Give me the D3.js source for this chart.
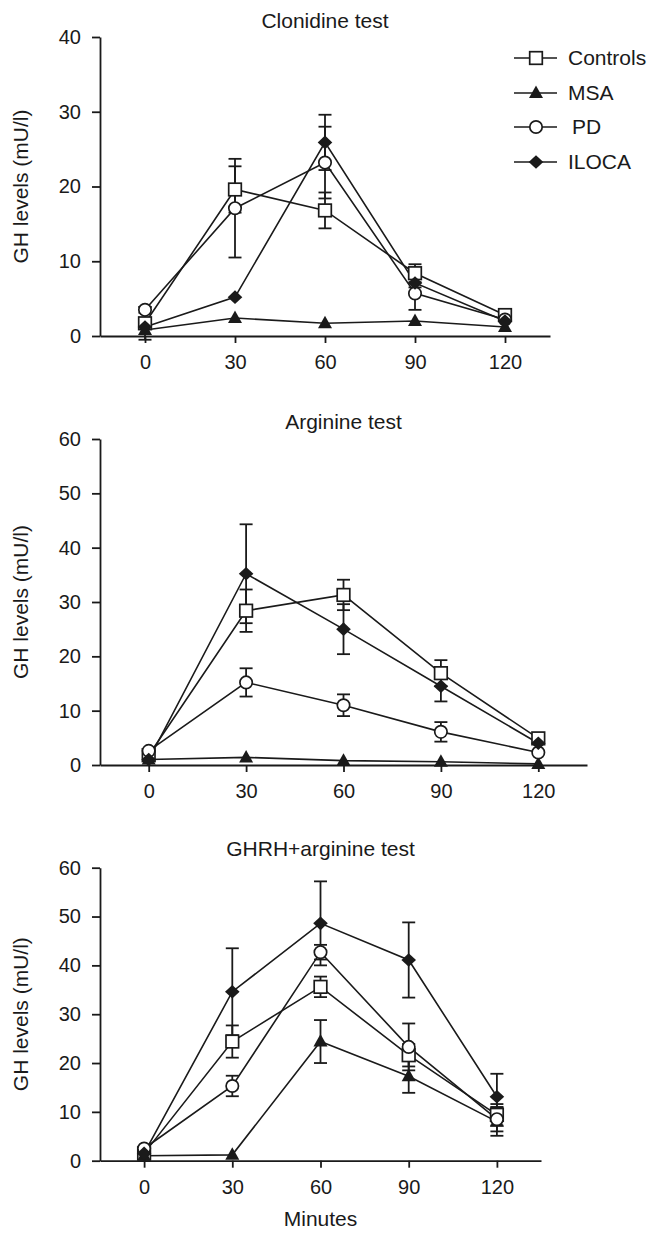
<!DOCTYPE html>
<html>
<head>
<meta charset="utf-8">
<script src="https://cdn.jsdelivr.net/npm/d3@7"></script>
<style>
  body { margin: 0; background: #fff; }
  svg { display: block; font-family: "Liberation Sans", Arial, Helvetica, sans-serif; }
  .axis path, .axis line { stroke: #1a1a1a; stroke-width: 1.8; }
  .axis text { font-size: 20px; fill: #1a1a1a; }
</style>
</head>
<body>
<svg id="chart" width="649" height="1239"></svg>
<script>
const minutes = [0, 30, 60, 90, 120];
const groups = ["Controls", "MSA", "PD", "ILOCA"];
const tests = ["Clonidine test", "Arginine test", "GHRH+arginine test"];
const yMax = [40, 60, 60];

// means per group (Controls, MSA, PD, ILOCA)
const clonidineMean = [
  [1.7, 19.6, 16.8, 8.4, 2.8],
  [0.8, 2.4, 1.7, 2.0, 1.2],
  [3.5, 17.1, 23.2, 5.7, 2.2],
  [1.2, 5.2, 25.9, 7.1, 2.0],
];
const clonidineErr = [
  [2.2, 3.1, 2.4, 1.2, 0],
  [0, 0, 0, 0, 0],
  [0.4, 6.6, 4.8, 2.2, 0],
  [0, 0, 3.7, 0.6, 0],
];
const arginineMean = [
  [1.8, 28.4, 31.3, 16.9, 4.9],
  [1.0, 1.4, 0.8, 0.6, 0.2],
  [2.6, 15.2, 11.0, 6.1, 2.3],
  [1.0, 35.2, 25.0, 14.5, 4.0],
];
const arginineErr = [
  [0, 3.9, 2.8, 2.4, 0],
  [0, 0, 0, 0, 0],
  [0, 2.6, 2.0, 1.8, 0],
  [0, 9.1, 4.6, 2.8, 0],
];
const ghrhMean = [
  [1.5, 24.4, 35.6, 21.6, 9.4],
  [1.0, 1.2, 24.4, 17.3, 8.0],
  [2.5, 15.3, 42.7, 23.3, 8.5],
  [1.5, 34.6, 48.6, 41.1, 13.1],
];
const ghrhErr = [
  [0, 3.3, 2.1, 2.3, 2.2],
  [0, 0, 4.4, 3.4, 2.9],
  [0, 2.1, 1.5, 4.8, 2.5],
  [0, 8.9, 8.6, 7.7, 4.7],
];

const means = [clonidineMean, arginineMean, ghrhMean];
const errs = [clonidineErr, arginineErr, ghrhErr];

// panel geometry
const panels = [
  { xr: [100, 550], yr: [336, 37], titleY: 28 },
  { xr: [100, 587], yr: [765, 439], titleY: 429 },
  { xr: [100, 541], yr: [1160.7, 867.7], titleY: 856 },
];

const svg = d3.select("#chart");
const ink = "#1a1a1a";

function marker(sel, gi) {
  if (gi === 0) {
    sel.append("rect").attr("x", -6.3).attr("y", -6.3).attr("width", 12.6).attr("height", 12.6)
      .attr("fill", "#fff").attr("stroke", ink).attr("stroke-width", 1.7);
  } else if (gi === 1) {
    sel.append("path").attr("d", "M0,-7.5L7,5L-7,5Z").attr("fill", ink);
  } else if (gi === 2) {
    sel.append("circle").attr("r", 6.2).attr("fill", "#fff")
      .attr("stroke", ink).attr("stroke-width", 1.7);
  } else {
    sel.append("path").attr("d", "M0,-6.8L7.3,0L0,6.8L-7.3,0Z").attr("fill", ink);
  }
}

panels.forEach((p, pi) => {
  const x = d3.scaleLinear().domain([-15, 135]).range(p.xr);
  const y = d3.scaleLinear().domain([0, yMax[pi]]).range(p.yr);
  const g = svg.append("g");

  g.append("g").attr("class", "axis")
    .attr("transform", `translate(0,${y(0)})`)
    .call(d3.axisBottom(x).tickValues(minutes).tickSize(7).tickSizeOuter(0).tickPadding(12))
    .call((a) => a.selectAll("text").attr("dy", "0.71em"));

  g.append("g").attr("class", "axis")
    .attr("transform", `translate(${p.xr[0]},0)`)
    .call(d3.axisLeft(y).ticks(yMax[pi] / 10).tickSize(8).tickSizeOuter(0).tickPadding(11));

  g.append("text").attr("x", (p.xr[0] + p.xr[1]) / 2).attr("y", p.titleY)
    .attr("text-anchor", "middle").attr("font-size", 21).attr("fill", ink)
    .text(tests[pi]);

  g.append("text")
    .attr("transform", `translate(21,${(p.yr[0] + p.yr[1]) / 2}) rotate(-90)`)
    .attr("text-anchor", "middle").attr("dy", "0.35em")
    .attr("font-size", 21).attr("fill", ink).text("GH levels (mU/l)");

  const line = d3.line().x((d, i) => x(minutes[i])).y((d) => y(d));

  groups.forEach((name, gi) => {
    const vals = means[pi][gi];
    const ev = errs[pi][gi];
    g.append("path").datum(vals).attr("d", line)
      .attr("fill", "none").attr("stroke", ink).attr("stroke-width", 1.6);
    const eb = g.append("g").attr("stroke", ink).attr("stroke-width", 1.8);
    vals.forEach((v, i) => {
      if (!ev[i]) return;
      const cx = x(minutes[i]);
      eb.append("line").attr("x1", cx).attr("x2", cx)
        .attr("y1", y(v - ev[i])).attr("y2", y(v + ev[i]));
      [v - ev[i], v + ev[i]].forEach((e) => {
        eb.append("line").attr("x1", cx - 6.5).attr("x2", cx + 6.5)
          .attr("y1", y(e)).attr("y2", y(e));
      });
    });
  });

  groups.forEach((name, gi) => {
    means[pi][gi].forEach((v, i) => {
      g.append("g").attr("transform", `translate(${x(minutes[i])},${y(v)})`)
        .call((s) => marker(s, gi));
    });
  });

  if (pi === 2) {
    g.append("text").attr("x", (p.xr[0] + p.xr[1]) / 2).attr("y", 1226)
      .attr("text-anchor", "middle").attr("font-size", 21).attr("fill", ink)
      .text("Minutes");
  }
});

// legend
const legendY = [58, 93, 127, 162];
const legend = svg.append("g");
groups.forEach((name, gi) => {
  const row = legend.append("g").attr("transform", `translate(0,${legendY[gi]})`);
  row.append("line").attr("x1", 514).attr("x2", 557).attr("stroke", ink).attr("stroke-width", 1.6);
  row.append("g").attr("transform", "translate(536,0)").call((s) => marker(s, gi));
  row.append("text").attr("x", gi === 2 ? 572 : 568).attr("dy", "0.35em")
    .attr("font-size", 21).attr("fill", ink).text(name);
});
</script>
</body>
</html>
